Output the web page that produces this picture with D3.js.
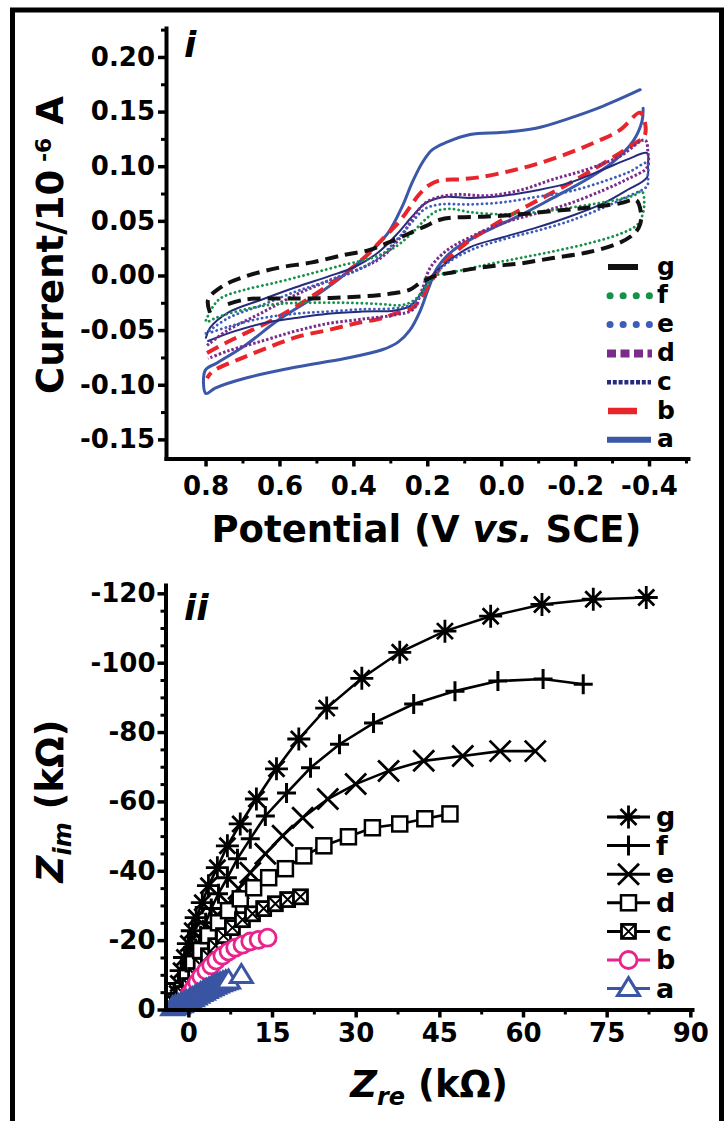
<!doctype html>
<html>
<head>
<meta charset="utf-8">
<script src="https://d3js.org/d3.v7.min.js"></script>
<style>
  body { margin: 0; background: #fff; }
  svg { display: block; font-family: "DejaVu Sans", sans-serif; font-weight: bold; }
</style>
</head>
<body>
<svg id="svg" width="724" height="1121"></svg>
<script>
// panel i : cyclic voltammograms, [potential (V vs SCE), current (1e-6 A)]
const cvNames = ["a", "b", "c", "d", "e", "f", "g"];
const cvA = [
  [-0.384, 0.153], [-0.381, 0.141], [-0.357, 0.123], [-0.303, 0.104], [-0.232, 0.088], [-0.140, 0.071],
  [-0.051, 0.055], [0.038, 0.041], [0.130, 0.023], [0.173, 0.007], [0.198, -0.013], [0.220, -0.033],
  [0.247, -0.050], [0.279, -0.061], [0.322, -0.068], [0.423, -0.076], [0.558, -0.084], [0.693, -0.094],
  [0.774, -0.103], [0.799, -0.108],
  [0.801, -0.087], [0.769, -0.080], [0.693, -0.064], [0.604, -0.041], [0.512, -0.021], [0.423, 0.001],
  [0.360, 0.020], [0.306, 0.039], [0.268, 0.063], [0.241, 0.085], [0.214, 0.103], [0.187, 0.115],
  [0.147, 0.122], [0.084, 0.129], [-0.005, 0.131], [-0.097, 0.135], [-0.186, 0.144], [-0.276, 0.155],
  [-0.376, 0.170]
];
const cvB = [
  [0.796, -0.071], [0.747, -0.062], [0.693, -0.053], [0.620, -0.041], [0.558, -0.029], [0.485, -0.013],
  [0.423, 0.002], [0.368, 0.017], [0.322, 0.033], [0.279, 0.048], [0.252, 0.060], [0.225, 0.073],
  [0.198, 0.082], [0.166, 0.087], [0.111, 0.088], [0.057, 0.090], [-0.016, 0.095], [-0.086, 0.101],
  [-0.167, 0.110], [-0.248, 0.121], [-0.321, 0.133], [-0.376, 0.149], [-0.390, 0.138], [-0.387, 0.127],
  [-0.367, 0.122], [-0.321, 0.112], [-0.259, 0.099], [-0.167, 0.081], [-0.078, 0.065], [0.011, 0.048],
  [0.093, 0.030], [0.152, 0.012], [0.187, -0.004], [0.212, -0.018], [0.241, -0.030], [0.287, -0.035],
  [0.322, -0.039], [0.395, -0.044], [0.469, -0.050], [0.550, -0.056], [0.631, -0.066], [0.712, -0.077],
  [0.782, -0.088], [0.796, -0.094]
];
const cvC = [
  [0.799, -0.057], [0.788, -0.048], [0.739, -0.034], [0.647, -0.022], [0.558, -0.011], [0.469, -0.001],
  [0.395, 0.008], [0.333, 0.021], [0.279, 0.039], [0.241, 0.054], [0.206, 0.066], [0.179, 0.070],
  [0.147, 0.072], [0.084, 0.071], [-0.005, 0.073], [-0.097, 0.078], [-0.186, 0.085], [-0.276, 0.097],
  [-0.340, 0.106], [-0.395, 0.112], [-0.397, 0.101], [-0.395, 0.090],
  [-0.340, 0.078], [-0.276, 0.066], [-0.186, 0.054], [-0.097, 0.044], [-0.005, 0.035], [0.084, 0.026],
  [0.147, 0.012], [0.192, -0.002], [0.220, -0.018], [0.247, -0.028], [0.287, -0.032], [0.376, -0.033],
  [0.469, -0.035], [0.558, -0.039], [0.647, -0.044], [0.739, -0.053], [0.793, -0.060]
];
const cvD = [
  [0.796, -0.064], [0.739, -0.050], [0.647, -0.034], [0.558, -0.018], [0.469, -0.005], [0.377, 0.007],
  [0.322, 0.017], [0.268, 0.037], [0.233, 0.056], [0.198, 0.068], [0.130, 0.074], [0.038, 0.073],
  [-0.051, 0.078], [-0.140, 0.088], [-0.232, 0.097], [-0.321, 0.109], [-0.389, 0.124], [-0.397, 0.113],
  [-0.395, 0.099],
  [-0.340, 0.088], [-0.276, 0.078], [-0.186, 0.066], [-0.097, 0.057], [-0.005, 0.048], [0.084, 0.035],
  [0.147, 0.023], [0.192, 0.007], [0.214, -0.013], [0.238, -0.031], [0.287, -0.036], [0.377, -0.040],
  [0.469, -0.044], [0.558, -0.051], [0.647, -0.060], [0.739, -0.069], [0.793, -0.076]
];
const cvE = [
  [0.799, -0.053], [0.739, -0.039], [0.647, -0.027], [0.558, -0.015], [0.469, -0.005], [0.395, 0.004],
  [0.333, 0.016], [0.279, 0.034], [0.241, 0.049], [0.206, 0.061], [0.166, 0.065], [0.084, 0.065],
  [-0.005, 0.067], [-0.097, 0.072], [-0.186, 0.077], [-0.276, 0.086], [-0.348, 0.095], [-0.395, 0.103],
  [-0.397, 0.092], [-0.395, 0.082],
  [-0.340, 0.072], [-0.276, 0.062], [-0.186, 0.050], [-0.097, 0.041], [-0.005, 0.033], [0.084, 0.023],
  [0.147, 0.011], [0.192, -0.004], [0.220, -0.019], [0.247, -0.027], [0.287, -0.030], [0.377, -0.031],
  [0.469, -0.033], [0.558, -0.035], [0.647, -0.039], [0.739, -0.047], [0.793, -0.053]
];
const cvF = [
  [0.799, -0.041], [0.777, -0.027], [0.755, -0.020], [0.693, -0.013], [0.604, -0.006], [0.512, 0.002],
  [0.423, 0.010], [0.350, 0.016], [0.287, 0.026], [0.241, 0.039], [0.206, 0.051], [0.174, 0.059],
  [0.139, 0.061], [0.084, 0.058], [-0.005, 0.056], [-0.097, 0.058], [-0.186, 0.062], [-0.276, 0.067],
  [-0.357, 0.073], [-0.381, 0.077], [-0.387, 0.065], [-0.381, 0.054],
  [-0.367, 0.046], [-0.321, 0.038], [-0.232, 0.029], [-0.140, 0.022], [-0.051, 0.016], [0.038, 0.010],
  [0.130, 0.003], [0.184, -0.001], [0.206, -0.011], [0.233, -0.022], [0.268, -0.027], [0.333, -0.026],
  [0.423, -0.025], [0.512, -0.025], [0.604, -0.026], [0.693, -0.031], [0.774, -0.039], [0.796, -0.043]
];
const cvG = [
  [0.788, -0.034], [0.793, -0.022], [0.755, -0.010], [0.693, -0.001], [0.604, 0.007], [0.512, 0.012],
  [0.423, 0.019], [0.360, 0.023], [0.306, 0.030], [0.252, 0.038], [0.206, 0.045], [0.166, 0.051],
  [0.130, 0.053], [0.038, 0.054], [-0.051, 0.056], [-0.140, 0.059], [-0.232, 0.062], [-0.321, 0.066],
  [-0.365, 0.069], [-0.378, 0.058], [-0.376, 0.047],
  [-0.362, 0.039], [-0.321, 0.030], [-0.232, 0.021], [-0.140, 0.016], [-0.051, 0.011], [0.038, 0.008],
  [0.130, 0.003], [0.184, -0.001], [0.220, -0.007], [0.247, -0.013], [0.287, -0.016], [0.333, -0.018],
  [0.423, -0.020], [0.512, -0.021], [0.604, -0.021], [0.693, -0.022], [0.755, -0.028]
];
const cvXTicks = [0.8, 0.6, 0.4, 0.2, 0.0, -0.2, -0.4];
const cvXMinor = [0.7, 0.5, 0.3, 0.1, -0.1, -0.3, -0.5];
const cvYTicks = [-0.15, -0.10, -0.05, 0.00, 0.05, 0.10, 0.15, 0.20];
const cvYMinor = [-0.125, -0.075, -0.025, 0.025, 0.075, 0.125, 0.175, 0.225];

// panel ii : Nyquist plots, [Zre (kOhm), Zim (kOhm)]
const eisNames = ["g", "f", "e", "d", "c", "b", "a"];
const eisG = [
  [-2.3, -1.7], [-2.0, -4.6], [-1.8, -7.5], [-1.3, -11.2], [-0.7, -15.0], [0.0, -19.0], [0.7, -22.7],
  [1.4, -26.5], [2.5, -30.8], [3.6, -35.7], [5.2, -40.9], [7.0, -47.2], [9.3, -53.5], [12.2, -60.7],
  [15.8, -69.4], [19.8, -78.0], [24.8, -86.9], [31.1, -95.5], [37.9, -103.0], [46.0, -109.1],
  [54.2, -113.4], [63.4, -116.8], [72.6, -118.3], [82.1, -118.8]
];
const eisF = [
  [-1.4, -2.6], [-0.9, -6.0], [-0.2, -9.8], [0.5, -13.5], [1.3, -17.6], [2.2, -21.3], [3.1, -25.0],
  [4.1, -29.1], [5.4, -33.4], [7.0, -38.0], [8.8, -43.5], [11.1, -49.2], [13.8, -55.8], [17.6, -62.4],
  [21.9, -69.7], [27.1, -76.5], [33.2, -82.6], [40.4, -88.1], [47.8, -91.8], [55.5, -94.7],
  [63.6, -95.3], [70.8, -93.8]
];
const eisE = [
  [-0.9, -4.0], [0.0, -7.5], [0.9, -11.2], [1.8, -15.0], [3.1, -19.0], [4.3, -22.7], [5.7, -26.5],
  [7.2, -30.5], [9.0, -34.8], [11.1, -39.4], [13.8, -44.9], [16.9, -50.1], [20.5, -55.3], [25.0, -60.7],
  [30.0, -65.0], [35.9, -68.8], [42.2, -71.7], [49.2, -73.1], [55.9, -74.5], [62.2, -74.5]
];
const eisD = [
  [-1.8, -2.6], [-1.1, -5.5], [-0.2, -9.2], [0.9, -13.2], [2.2, -17.0], [3.6, -21.3], [5.4, -25.0],
  [7.2, -28.5], [9.3, -31.9], [11.7, -35.1], [14.4, -38.0], [17.4, -40.6], [20.7, -44.3], [24.3, -47.2],
  [28.7, -49.8], [33.0, -52.4], [37.9, -53.5], [42.4, -55.0], [46.9, -56.4]
];
const eisC = [
  [-1.6, -2.0], [-0.9, -4.6], [0.2, -6.9], [1.3, -9.8], [2.3, -12.7], [3.6, -15.5], [4.9, -18.4],
  [6.3, -21.3], [7.9, -23.6], [9.7, -25.9], [11.5, -27.6], [13.5, -29.1], [15.6, -30.5], [17.8, -31.7],
  [20.1, -32.5]
];
const eisB = [
  [-1.1, -1.2], [-0.5, -2.6], [0.2, -4.3], [0.9, -6.0], [1.6, -7.8], [2.3, -9.5], [3.2, -11.2],
  [4.1, -12.7], [5.0, -14.1], [6.1, -15.5], [7.2, -16.7], [8.4, -17.8], [9.7, -18.7], [11.1, -19.6],
  [12.6, -20.1], [14.2, -20.7]
];
const eisA = [
  [-2.8, -0.5], [-2.3, -0.8], [-1.8, -1.1], [-1.3, -1.4], [-0.8, -1.8], [-0.3, -2.2], [0.2, -2.6],
  [0.7, -3.1], [1.2, -3.6], [1.7, -4.1], [2.2, -4.6], [2.7, -5.0], [3.2, -5.5], [3.7, -5.9],
  [4.2, -6.3], [4.7, -6.7], [5.2, -7.1], [5.7, -7.4], [6.2, -7.7], [6.7, -8.0], [7.2, -8.2],
  [9.5, -9.8]
];
const eisXTicks = [0, 15, 30, 45, 60, 75, 90];
const eisXMinor = [7.5, 22.5, 37.5, 52.5, 67.5, 82.5];
const eisYTicks = [0, -20, -40, -60, -80, -100, -120];
const eisYMinor = [-5, -10, -15, -25, -30, -35, -45, -50, -55, -65, -70, -75, -85, -90, -95, -105, -110, -115];

// styles
const cvStyle = {
  a: { color: "#3a57a8", width: 3, dash: null, cap: "round" },
  b: { color: "#e8252b", width: 4, dash: "13,7", cap: "butt" },
  c: { color: "#262b7c", width: 2, dash: null, cap: "round" },
  d: { color: "#7b2c8a", width: 3, dash: "2.5,2", cap: "butt" },
  e: { color: "#3d5db8", width: 2.8, dash: "0.1,4.6", cap: "round" },
  f: { color: "#16914a", width: 2.8, dash: "0.1,4.6", cap: "round" },
  g: { color: "#111111", width: 4, dash: "13,7", cap: "butt" }
};
const cvLegendStyle = {
  g: { x1: 608, x2: 638, width: 6, dash: null, cap: "butt" },
  f: { x1: 610, x2: 651, width: 7, dash: "0.1,13", cap: "round" },
  e: { x1: 610, x2: 651, width: 7, dash: "0.1,13", cap: "round" },
  d: { x1: 607, x2: 652, width: 8, dash: "9,4.5", cap: "butt" },
  c: { x1: 607, x2: 651, width: 4.5, dash: "4,1.8", cap: "butt" },
  b: { x1: 608, x2: 637, width: 6.5, dash: null, cap: "butt" },
  a: { x1: 607, x2: 651, width: 6, dash: null, cap: "butt" }
};
const eisStyle = {
  g: { color: "#000", marker: "star" },
  f: { color: "#000", marker: "plus" },
  e: { color: "#000", marker: "cross" },
  d: { color: "#000", marker: "square" },
  c: { color: "#000", marker: "squarex" },
  b: { color: "#e8238b", marker: "circle" },
  a: { color: "#3a55a3", marker: "triangle" }
};

const cvData = { a: cvA, b: cvB, c: cvC, d: cvD, e: cvE, f: cvF, g: cvG };
const eisData = { a: eisA, b: eisB, c: eisC, d: eisD, e: eisE, f: eisF, g: eisG };

const FONT = "DejaVu Sans";
const svg = d3.select("#svg");
svg.append("rect").attr("width", 724).attr("height", 1121).attr("fill", "#fff");

// outer frame
svg.append("path")
  .attr("d", "M12.5,1121V10H721.5V1121")
  .attr("fill", "none").attr("stroke", "#000").attr("stroke-width", 5);

function styleAxis(g, domainWidth, tickWidth) {
  g.attr("font-size", 26).attr("font-family", FONT).attr("font-weight", "bold");
  g.select(".domain").attr("stroke-width", domainWidth).attr("stroke-linecap", "square");
  g.selectAll(".tick line").attr("stroke-width", tickWidth);
  g.selectAll(".tick text").attr("fill", "#000");
}
function minorAxis(g) {
  g.select(".domain").remove();
  g.selectAll(".tick line").attr("stroke-width", 3);
}

// ---------------- panel i ----------------
const xI = d3.scaleLinear().domain([0.907, -0.5055]).range([166, 688]);
const yI = d3.scaleLinear().domain([-0.1675, 0.2265]).range([458.5, 28]);

const panelI = svg.append("g");

const lineI = d3.line()
  .x(d => xI(d[0]))
  .y(d => yI(d[1]))
  .curve(d3.curveCatmullRom.alpha(0.5));

cvNames.forEach(k => {
  const s = cvStyle[k];
  panelI.append("path")
    .attr("d", lineI(cvData[k]))
    .attr("fill", "none")
    .attr("stroke", s.color)
    .attr("stroke-width", s.width)
    .attr("stroke-dasharray", s.dash)
    .attr("stroke-linecap", s.cap)
    .attr("stroke-linejoin", "round");
});

panelI.append("g").attr("transform", "translate(0,458.5)")
  .call(d3.axisBottom(xI).tickValues(cvXMinor).tickSize(5).tickSizeOuter(0).tickFormat(""))
  .call(minorAxis);
panelI.append("g").attr("transform", "translate(166,0)")
  .call(d3.axisLeft(yI).tickValues(cvYMinor).tickSize(5).tickSizeOuter(0).tickFormat(""))
  .call(minorAxis);
panelI.append("g").attr("transform", "translate(0,458.5)")
  .call(d3.axisBottom(xI).tickValues(cvXTicks).tickSize(8).tickSizeOuter(0).tickPadding(10)
    .tickFormat(d => d.toFixed(1)))
  .call(g => styleAxis(g, 4, 3.5));
panelI.append("g").attr("transform", "translate(166,0)")
  .call(d3.axisLeft(yI).tickValues(cvYTicks).tickSize(8).tickSizeOuter(0).tickPadding(3)
    .tickFormat(d => d.toFixed(2)))
  .call(g => styleAxis(g, 4, 3.5));

// legend i
const legI = panelI.append("g");
["g", "f", "e", "d", "c", "b", "a"].forEach((k, i) => {
  const y = 267 + i * 28.8;
  const ls = cvLegendStyle[k];
  legI.append("line")
    .attr("x1", ls.x1).attr("x2", ls.x2).attr("y1", y).attr("y2", y)
    .attr("stroke", cvStyle[k].color)
    .attr("stroke-width", ls.width)
    .attr("stroke-dasharray", ls.dash)
    .attr("stroke-linecap", ls.cap);
  legI.append("text")
    .attr("x", 657).attr("y", y).attr("dy", "0.3em")
    .attr("font-size", 25).attr("font-family", FONT).attr("font-weight", "bold")
    .text(k);
});

// titles i
const xtI = panelI.append("text")
  .attr("x", 426.5).attr("y", 542).attr("text-anchor", "middle")
  .attr("font-size", 37).attr("font-family", FONT).attr("font-weight", "bold");
xtI.append("tspan").text("Potential (V ");
xtI.append("tspan").attr("font-style", "italic").text("vs.");
xtI.append("tspan").text(" SCE)");

const ytI = panelI.append("text")
  .attr("transform", "translate(63,245) rotate(-90)")
  .attr("text-anchor", "middle")
  .attr("font-size", 37).attr("font-family", FONT).attr("font-weight", "bold");
ytI.append("tspan").text("Current/10");
ytI.append("tspan").attr("font-size", 22).attr("dy", -12).text(" -6");
ytI.append("tspan").attr("dy", 12).text(" A");

panelI.append("text")
  .attr("x", 184).attr("y", 57)
  .attr("font-size", 36).attr("font-family", FONT).attr("font-weight", "bold")
  .attr("font-style", "italic").text("i");

// ---------------- panel ii ----------------
const xII = d3.scaleLinear().domain([-4.1, 90.3]).range([165.5, 692]);
const yII = d3.scaleLinear().domain([0, -122.4]).range([1009.5, 585]);

const panelII = svg.append("g");

function addMarker(sel, type, color) {
  if (type === "star") {
    sel.append("path").attr("d", "M0,-11.5V11.5M-11.5,0H11.5M-8,-8L8,8M-8,8L8,-8")
      .attr("stroke", color).attr("stroke-width", 2.8).attr("fill", "none");
  } else if (type === "plus") {
    sel.append("path").attr("d", "M0,-10V10M-9.5,0H9.5")
      .attr("stroke", color).attr("stroke-width", 3).attr("fill", "none");
  } else if (type === "cross") {
    sel.append("path").attr("d", "M-10.5,-10.5L10.5,10.5M-10.5,10.5L10.5,-10.5")
      .attr("stroke", color).attr("stroke-width", 2.8).attr("fill", "none");
  } else if (type === "square") {
    sel.append("rect").attr("x", -7.5).attr("y", -7.5).attr("width", 15).attr("height", 15)
      .attr("stroke", color).attr("stroke-width", 2.5).attr("fill", "#fff");
  } else if (type === "squarex") {
    sel.append("rect").attr("x", -7).attr("y", -7).attr("width", 14).attr("height", 14)
      .attr("stroke", color).attr("stroke-width", 2.8).attr("fill", "#fff");
    sel.append("path").attr("d", "M-7,-7L7,7M-7,7L7,-7")
      .attr("stroke", color).attr("stroke-width", 2).attr("fill", "none");
  } else if (type === "circle") {
    sel.append("circle").attr("r", 8.5)
      .attr("stroke", color).attr("stroke-width", 2.8).attr("fill", "#fff");
  } else if (type === "triangle") {
    sel.append("path").attr("d", "M0,-11L11,7L-11,7Z")
      .attr("stroke", color).attr("stroke-width", 3).attr("stroke-linejoin", "miter").attr("fill", "#fff");
  }
}

const lineII = d3.line().x(d => xII(d[0])).y(d => yII(d[1]));

eisNames.forEach(k => {
  const s = eisStyle[k];
  const g = panelII.append("g");
  g.append("path")
    .attr("d", lineII(eisData[k]))
    .attr("fill", "none").attr("stroke", s.color).attr("stroke-width", 2.6);
  g.selectAll("g.pt")
    .data(eisData[k])
    .join("g")
    .attr("class", "pt")
    .attr("transform", d => `translate(${xII(d[0])},${yII(d[1])})`)
    .each(function () { addMarker(d3.select(this), s.marker, s.color); });
});

panelII.append("g").attr("transform", "translate(0,1009.5)")
  .call(d3.axisBottom(xII).tickValues(eisXMinor).tickSize(5).tickSizeOuter(0).tickFormat(""))
  .call(minorAxis);
panelII.append("g").attr("transform", "translate(165.5,0)")
  .call(d3.axisLeft(yII).tickValues(eisYMinor).tickSize(5).tickSizeOuter(0).tickFormat(""))
  .call(minorAxis);
panelII.append("g").attr("transform", "translate(0,1009.5)")
  .call(d3.axisBottom(xII).tickValues(eisXTicks).tickSize(8).tickSizeOuter(0).tickPadding(6)
    .tickFormat(d => String(d)))
  .call(g => styleAxis(g, 4, 3.5));
panelII.append("g").attr("transform", "translate(165.5,0)")
  .call(d3.axisLeft(yII).tickValues(eisYTicks).tickSize(8).tickSizeOuter(0).tickPadding(2)
    .tickFormat(d => String(d)))
  .call(g => styleAxis(g, 4, 3.5));

// legend ii
const legII = panelII.append("g");
["g", "f", "e", "d", "c", "b", "a"].forEach((k, i) => {
  const y = 817 + i * 28.6;
  const s = eisStyle[k];
  legII.append("line")
    .attr("x1", 607).attr("x2", 650).attr("y1", y).attr("y2", y)
    .attr("stroke", s.color).attr("stroke-width", 3);
  const m = legII.append("g").attr("transform", `translate(628.5,${y})`);
  addMarker(m, s.marker, s.color);
  legII.append("text")
    .attr("x", 656).attr("y", y).attr("dy", "0.34em")
    .attr("font-size", 27).attr("font-family", FONT).attr("font-weight", "bold")
    .text(k);
});

// titles ii
const xtII = panelII.append("text")
  .attr("x", 429).attr("y", 1097).attr("text-anchor", "middle")
  .attr("font-size", 37).attr("font-family", FONT).attr("font-weight", "bold");
xtII.append("tspan").attr("font-style", "italic").text("Z");
xtII.append("tspan").attr("font-style", "italic").attr("font-size", 24).attr("dy", 8).text("re");
xtII.append("tspan").attr("dy", -8).text(" (kΩ)");

const ytII = panelII.append("text")
  .attr("transform", "translate(63,801) rotate(-90)")
  .attr("text-anchor", "middle")
  .attr("font-size", 37).attr("font-family", FONT).attr("font-weight", "bold");
ytII.append("tspan").attr("font-style", "italic").text("Z");
ytII.append("tspan").attr("font-style", "italic").attr("font-size", 24).attr("dy", 8).text("im");
ytII.append("tspan").attr("dy", -8).text(" (kΩ)");

panelII.append("text")
  .attr("x", 184).attr("y", 620)
  .attr("font-size", 36).attr("font-family", FONT).attr("font-weight", "bold")
  .attr("font-style", "italic").text("ii");
</script>
</body>
</html>
